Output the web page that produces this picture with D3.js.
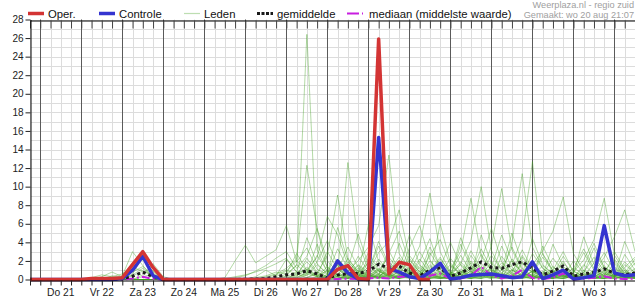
<!DOCTYPE html>
<html>
<head>
<meta charset="utf-8">
<script src="https://cdn.jsdelivr.net/npm/d3@7"></script>
<style>
body { margin: 0; background: #fff; }
svg { display: block; font-family: "Liberation Sans", Arial, sans-serif; }
</style>
</head>
<body>
<svg id="chart" width="635" height="300"></svg>
<script>
// size of the whole picture
var w = 635;
var h = 300;

// time axis: 6-hourly steps from wo 20 aug 18:00 to do 4 sep 12:00
var start = new Date(2025, 7, 20, 18);
var end = new Date(2025, 8, 4, 12);
var stepHours = 6;

var dayLabels = ["Do 21", "Vr 22", "Za 23", "Zo 24", "Ma 25", "Di 26", "Wo 27",
                 "Do 28", "Vr 29", "Za 30", "Zo 31", "Ma 1", "Di 2", "Wo 3"];
var yTicks = [0, 2, 4, 6, 8, 10, 12, 14, 16, 18, 20, 22, 24, 26, 28];

// operational run (stops after 240 h)
var oper = [0,0,0,0,0,0,0.1,0.1,0.1,0.2,1.6,3.0,1.3,0,0,0,0,0,0,0,
            0,0,0,0,0,0,0,0,0,0,1.1,1.5,0.1,0,25.9,0.6,1.85,1.6,0,0];

// control run
var controle = [0,0,0,0,0,0,0,0,0,0.1,1.0,2.5,0.4,0,0,0,0,0,0,0,
                0,0,0,0,0,0,0,0,0,0,2.0,0.7,0.05,0,15.3,1.2,0.8,0.3,0.1,0.8,
                1.75,0.05,0.2,0.45,0.55,0.6,0.4,0.2,0.3,1.9,0.1,0.5,1.0,0.05,0.2,0.4,5.8,0.7,0.4,0.5];

// ensemble mean
var gemiddelde = [0,0,0,0,0,0,0.02,0.03,0.05,0.08,0.35,0.8,0.3,0.02,0,0,0,0,0,0,
                  0,0.03,0.05,0.1,0.3,0.5,0.6,0.95,0.6,0.15,0.5,0.6,0.65,0.9,1.65,1.2,1.45,0.7,0.4,1.0,
                  1.25,0.35,0.7,1.25,1.9,1.3,1.2,1.6,1.9,1.2,0.5,0.9,1.45,0.35,0.6,0.75,1.15,0.65,0.5,0.7];

// ensemble median
var mediaan = [0,0,0,0,0,0,0,0,0,0,0.1,0.3,0.05,0,0,0,0,0,0,0,
               0,0,0,0,0,0,0,0,0,0,0.05,0.1,0.05,0.1,0.2,0.1,0.3,0.3,0.05,0.4,
               0.65,0.05,0.1,0.4,1.35,0.45,0.1,0.4,1.05,0.15,0.05,0.2,0.65,0,0.1,0.2,0.35,0.1,0.05,0.1];

// ensemble members (Leden)
var m01 = [0,0,0,0,0,0,0,0,0,0,0.5,1.2,0.3,0,0,0,0,
  0,0,0,0,0.1,0.2,0.4,0.8,0.6,1.5,26.4,3.2,0.8,1.5,0.6,0.3,1.8,0.9,0.4,2.1,0.5,0.2,1.4,0.8,0.3,0.1,2.6,1.0,0.4,1.8,0.6,0.2,0.9,0.3,0.1,1.2,0.4,0.2,0.6,1.5,0.3,0.8,0.4];
var m02 = [0,0,0,0,0,0,0,0,0,0.4,3.0,1.5,0.2,0,0,0,0,
  0,0,0,0,0,0.1,0.3,0.6,1.2,2.2,12.3,5.4,1.2,0.4,2.3,0.8,0.2,0.6,3.1,1.0,0.2,0.1,0.8,2.4,0.6,0.2,0.9,3.3,1.1,0.4,0.2,1.7,0.8,0.1,0.6,2.0,0.3,0.1,0.3,0.9,2.2,0.6,0.3];
var m03 = [0,0,0,0,0,0,0,0.3,0.8,0.3,0,0,0,0,0,0,0,
  0,0,0.2,2.0,3.7,1.8,2.5,3.2,5.8,1.9,3.4,1.1,0.5,2.2,1.0,0.4,0.9,4.1,1.6,0.7,0.3,1.9,4.4,1.2,0.5,1.6,0.8,0.3,1.3,4.8,2.0,0.7,0.3,1.5,0.6,0.2,0.8,2.9,1.0,0.4,0.2,1.3,2.4];
var m04 = [0,0,0,0,0,0,0,0,0,0,0,0,0,0,0,0,0,
  0,0,0,0.2,0.4,0.9,1.5,2.3,3.0,1.2,2.5,5.5,2.0,0.8,12.6,4.0,1.1,0.4,0.9,2.4,0.8,0.3,1.1,0.5,0.2,3.8,1.3,0.6,0.2,1.0,3.5,1.2,0.4,0.1,0.9,0.4,0.2,1.4,3.9,1.3,0.5,0.2,0.6];
var m05 = [0,0,0,0,0,0,0,0,0,0,0.6,2.4,0.8,0,0,0,0,
  0,0,0,0,0,0,0,0.1,0.3,0.8,0.4,1.6,0.6,0.3,0.9,2.0,3.5,5.8,13.4,2.8,1.0,0.4,0.2,1.3,0.6,0.3,1.8,0.9,0.3,0.1,2.2,0.8,0.3,0.1,0.4,1.8,0.6,0.2,0.1,0.5,1.7,0.5,0.2];
var m06 = [0,0,0,0,0,0,0,0,0,0,0,0,0,0,0,0,0,
  0,0,0,0,0,0.1,0.2,0.5,1.0,0.6,1.9,0.7,2.6,9.1,2.2,0.9,0.4,1.2,0.5,0.2,1.4,3.6,9.3,3.0,0.8,0.3,0.9,0.4,1.9,0.7,0.3,2.6,1.0,0.4,0.2,0.6,0.2,0.1,1.1,2.9,0.9,0.3,0.1];
var m07 = [0,0,0,0,0,0,0,0,0,0,0,0,0,0,0,0,0,
  0,0,0,0,0,0,0.1,0.3,0.9,2.0,1.0,2.4,6.8,4.8,1.5,0.6,5.9,1.9,0.6,0.3,2.6,1.1,0.4,6.0,1.8,0.5,0.2,1.4,0.6,0.2,1.0,0.4,2.8,1.2,0.4,0.1,1.3,0.5,0.2,0.6,0.3,1.6,0.7];
var m08 = [0,0,0,0,0,0,0,0,0,0,0,0,0,0,0,0,0,
  0,0,0,0,0,0,0,0,0.2,0.5,1.3,0.4,0.2,1.2,0.5,1.6,0.8,2.9,4.1,7.5,2.3,0.8,0.3,0.9,0.4,1.7,4.2,10.0,3.1,1.0,0.4,0.2,0.9,0.5,2.3,0.9,0.3,0.1,0.4,1.3,0.6,0.3,0.9];
var m09 = [0,0,0,0,0,0,0,0,0,0,0,0,0,0,0,0,0,
  0,0,0,0,0,0,0,0,0,0.1,0.6,0.3,1.0,0.5,0.2,0.7,1.8,0.6,0.3,1.2,0.5,2.2,0.8,0.3,1.1,3.0,8.75,2.5,0.9,0.3,1.6,4.5,12.7,2.7,0.9,0.3,0.1,0.8,2.4,0.9,0.3,0.1,0.5];
var m10 = [0,0,0,0,0,0,0,0,0,0,0,0,0,0,0,0,0,
  0,0,0,0,0,0,0,0,0,0,0.2,0.8,0.3,2.0,0.8,0.3,0.1,0.5,1.9,0.7,0.3,0.1,2.9,1.1,0.4,0.2,1.5,0.6,3.6,9.8,3.2,1.0,0.4,0.2,1.0,3.0,0.8,2.1,4.3,8.75,2.6,0.9,0.3];
var m11 = [0,0,0,0,0,0,0,0,0,0,0,0,0,0,0,0,0,
  0,0,0,0,0,0,0,0,0,0,0,0.2,0.5,1.1,0.4,0.2,2.3,0.9,0.3,0.8,0.4,1.5,0.6,0.2,0.1,0.9,0.4,2.7,1.0,0.5,4.0,11.4,3.5,1.2,0.4,0.9,0.3,0.1,0.8,2.4,4.6,7.5,3.0];
var m12 = [0,0,0,0,0,0,0,0,0,0,0,0,0,0,0,0,0,
  0,0,0,0,0,0,0,0,0,0,0,0,0.1,0.4,1.3,0.5,0.2,1.0,2.4,1.0,4.8,1.6,0.5,0.2,0.6,1.9,0.7,0.3,0.1,2.5,1.0,0.4,1.6,3.1,5.2,8.9,2.8,0.9,0.3,0.1,1.2,0.5,1.8];
var m13 = [0,0,0,0,0,0,0,0,0,0,0,0,0,0,0,0,0,
  0,0,0,0,0,0.3,1.0,0.4,2.2,0.8,4.5,1.7,0.6,3.3,1.2,4.9,1.6,0.5,2.8,5.2,1.8,0.6,3.5,1.3,4.0,1.5,0.5,2.0,5.5,1.9,0.7,3.2,1.1,0.4,3.8,1.4,0.5,4.6,1.6,0.6,0.2,2.7,1.0];
var m14 = [0,0,0,0,0,0,0,0,0,0,0,0,0,0,0,0,0,
  0,0,0,0,0,0,0,0.1,0.6,2.8,1.0,0.4,3.0,1.1,0.4,2.5,0.9,3.6,1.3,0.5,3.4,5.8,2.1,0.7,0.3,4.5,1.6,0.6,2.6,1.0,5.0,1.8,0.6,2.4,0.9,0.3,2.0,0.7,3.4,1.2,0.4,4.1,1.5];
var m15 = [0,0,0,0,0,0,0,0,0,0.2,1.8,2.1,0.9,0.1,0,0,0,
  0,0,0,0,0,0,0,0,0.4,1.6,0.6,3.8,1.3,0.5,1.9,0.7,0.3,2.2,0.8,3.9,1.4,0.5,2.6,4.3,1.5,0.5,3.1,1.1,0.4,3.6,1.3,0.5,4.4,1.6,0.6,2.5,0.9,0.3,1.8,5.3,1.9,0.7,2.2];
var m16 = [0,0,0,0,0,0,0,0,0,0,0,0,0,0,0,0,0,
  0,0,0,0,0,0,0,0,0,0.3,2.3,0.8,0.3,5.6,2.0,0.7,2.9,1.0,0.4,1.7,0.6,3.0,1.1,0.4,2.3,0.8,0.3,4.8,1.7,0.6,2.0,0.7,0.3,3.6,1.3,0.5,1.2,3.3,1.2,0.4,3.0,1.1,0.4];
var m17 = [0,0,0,0,0,0,0.2,0.5,0.3,0.6,1.3,0.9,0.4,0,0,0,0,
  0,0,0,0,0,0,0,0,0,0,0.5,1.9,4.2,1.5,0.5,1.2,0.4,0.2,1.6,0.6,2.1,0.8,0.3,1.8,0.7,2.6,0.9,0.3,1.4,0.5,0.2,1.9,0.7,2.8,1.0,0.4,0.2,1.6,0.6,2.0,0.7,0.3,1.2];
var m18 = [0,0,0,0,0,0,0,0,0,0,0,0,0,0,0,0,0,
  0,0,0,0,0,0,0,0,0,0,0,0.3,0.1,0.9,3.5,1.3,0.5,0.2,0.8,0.3,1.0,0.4,1.6,0.6,0.2,1.1,0.4,1.7,0.6,0.2,0.9,2.4,0.9,0.3,0.1,1.1,0.4,0.2,0.7,0.3,1.4,0.5,0.2];
var m19 = [0,0,0,0,0,0,0,0,0,0,0,0.5,1.7,0.3,0,0,0,
  0,0,0,0,0,0,0,0,0,0,0,0,0.2,0.6,0.3,1.5,0.6,0.2,0.5,0.2,0.8,0.3,0.1,0.7,0.3,0.1,1.2,0.5,0.2,0.6,0.2,0.1,0.5,0.2,1.4,0.5,0.2,0.1,0.3,0.8,0.3,0.1,0.4];
var m20 = [0,0,0,0,0,0,0,0,0,0,0,0,0,0,0,0,0,
  0,0,0,0,0,0,0,0,0,0,0,0,0,0.1,0.4,0.2,0.7,0.3,1.1,0.4,0.2,0.6,0.2,0.1,0.5,0.2,0.6,1.3,0.5,0.2,0.1,0.6,0.2,0.8,0.3,0.1,0.4,0.2,0.9,0.3,0.1,0.5,0.2];
var m21 = [0,0,0,0,0,0,0,0,0,0,0.4,0.9,0.5,0,0,0,0,
  0,0,0,0,0,0,0,0,0.1,0.4,1.1,0.4,0.9,0.3,0.7,0.3,1.4,0.5,0.2,0.9,0.3,0.1,0.6,2.2,0.8,0.3,0.1,0.7,0.3,1.5,0.5,0.2,0.6,0.2,0.1,0.8,0.3,1.0,0.4,0.1,0.6,0.2,0.1];
var m22 = [0,0,0,0,0,0,0,0,0,0,0,0,0,0,0,0,0,
  0,0,0.1,0.3,0.5,0.8,1.2,1.7,2.3,0.8,0.9,0.3,0.1,1.7,0.6,0.2,0.5,0.2,1.3,0.5,0.2,0.1,0.5,0.2,0.1,0.6,2.0,0.7,0.3,0.1,0.5,0.2,1.8,0.6,0.2,0.1,0.5,0.2,0.1,0.7,0.3,1.9,0.7];
var m23 = [0,0,0,0,0,0,0,0,0,0,0,0,0,0,0,0,0,
  0,0,0,0,0,0,0,0,0,0,0.2,0.6,0.2,0.1,0.5,0.2,0.8,0.3,0.1,0.4,1.2,0.4,0.2,0.1,0.4,0.9,0.3,0.1,0.8,0.3,1.1,0.4,0.1,0.3,0.8,0.3,0.1,0.5,0.2,1.0,0.4,0.1,0.3];
var m24 = [0,0,0,0,0,0,0,0,0,0,0,0,0,0,0,0,0,
  0,0,0,0,0,0,0,0,0,0,0,0,0,0,0.1,0.5,0.2,0.9,0.3,0.1,0.7,0.3,0.1,0.4,1.6,0.6,0.2,0.1,0.5,0.2,0.7,0.3,0.1,0.9,0.3,0.6,0.2,0.1,0.5,0.2,0.1,0.4,0.2];
var m25 = [0,0,0,0,0,0,0,0,0,0,0.8,1.4,0.4,0,0,0,0,
  0,0,0,0,0,0,0,0,0,0.2,0.7,2.6,0.9,0.3,0.1,1.0,0.4,0.1,0.6,0.2,0.9,0.3,2.0,0.7,0.2,0.1,0.6,0.2,1.0,0.4,0.1,0.7,0.2,0.1,0.5,0.2,0.9,0.3,0.1,0.4,0.9,0.3,0.1];
var m26 = [0,0,0,0,0,0,0,0,0,0,0,0,0,0,0,0,0,
  0,0,0,0,0,0,0,0,0,0,0,0,0,0.2,0.1,0.4,0.1,0.3,0.1,0.5,0.2,0.9,0.3,0.1,0.3,0.1,0.4,0.2,0.6,0.2,0.1,0.4,0.1,0.5,0.2,0.1,0.3,0.7,0.2,0.1,0.3,0.1,0.6];
var m27 = [0,0,0,0,0,0,0,0,0.4,0.2,0,0,0,0,0,0,0,
  0,0,0,0,0,0,0,0.2,0.1,0.6,0.2,0.1,0.4,0.1,0.3,0.1,0.5,0.2,0.1,0.3,0.1,0.2,0.7,0.3,0.1,0.3,0.1,0.5,0.2,0.1,0.3,0.1,0.4,0.1,0.2,0.5,0.1,0.3,0.1,0.2,0.5,0.2,0.1];
var m28 = [0,0,0,0,0,0,0,0,0,0,0,0,0,0,0,0,0,
  0,0,0,0,0,0,0,0,0,0,0,0.1,0.3,0.1,0.2,0.6,0.2,0.1,0.4,0.1,0.3,0.1,0.4,0.1,0.2,0.5,0.2,0.1,0.3,0.1,0.4,0.2,0.1,0.3,0.1,0.4,0.1,0.2,0.1,0.3,0.1,0.2,0.4];
var m29 = [0,0,0,0,0,0,0,0,0,0,0,0,0,0,0,0,0,
  0,0,0,0,0,0,0,0,0.1,0.2,0.8,0.3,1.4,0.5,0.2,0.1,0.3,1.1,0.4,0.1,0.3,1.3,0.5,0.2,0.1,0.4,0.1,0.3,1.2,0.4,0.1,0.3,0.9,0.3,0.1,0.4,0.1,0.6,0.2,0.1,0.4,1.0,0.3];
var m30 = [0,0,0,0,0,0,0,0,0,0,0,0.3,0.6,0.1,0,0,0,
  0,0,0,0,0,0,0,0,0,0,0,0,0.1,0.3,0.1,0.2,0.1,0.4,0.2,0.1,0.5,0.2,0.1,0.3,0.1,0.2,0.1,0.4,0.1,0.3,0.1,0.2,0.3,0.1,0.2,0.1,0.4,0.1,0.2,0.1,0.2,0.1,0.2];

var leden = [m01, m02, m03, m04, m05, m06, m07, m08, m09, m10,
             m11, m12, m13, m14, m15, m16, m17, m18, m19, m20,
             m21, m22, m23, m24, m25, m26, m27, m28, m29, m30];

var svg = d3.select("#chart");

// plot area
var plotLeft = 30, plotRight = 635, plotTop = 19.5, plotBottom = 279.5;

var x = d3.scaleTime().domain([start, end]).range([plotLeft, plotRight]);
var y = d3.scaleLinear().domain([0, 28]).range([plotBottom, plotTop]);

function timeAt(i) { return d3.timeHour.offset(start, i * stepHours); }

var sixHours = d3.timeHour.every(6).range(start, d3.timeHour.offset(end, 1));
var midnights = d3.timeDay.range(d3.timeHour.offset(start, 1), end);

//Grid: light lines every 6 hours and every 1 mm
var grid = svg.append("g").attr("class", "grid");
grid.selectAll(".vgrid")
    .data(sixHours)
    .enter().append("line")
    .attr("x1", function(d) { return Math.round(x(d)) + 0.5; })
    .attr("x2", function(d) { return Math.round(x(d)) + 0.5; })
    .attr("y1", plotTop).attr("y2", plotBottom)
    .attr("stroke", "#dcdcdc");
grid.selectAll(".hgrid")
    .data(d3.range(1, 29))
    .enter().append("line")
    .attr("x1", plotLeft).attr("x2", plotRight)
    .attr("y1", function(d) { return Math.round(y(d)) + 0.5; })
    .attr("y2", function(d) { return Math.round(y(d)) + 0.5; })
    .attr("stroke", "#dcdcdc");

//Day separators
grid.selectAll(".day")
    .data(midnights)
    .enter().append("line")
    .attr("x1", function(d) { return Math.round(x(d)) + 0.5; })
    .attr("x2", function(d) { return Math.round(x(d)) + 0.5; })
    .attr("y1", plotTop).attr("y2", plotBottom + 1)
    .attr("stroke", "#5a5a5a");

//Lines
var line = d3.line()
    .x(function(d, i) { return x(timeAt(i)); })
    .y(function(d) { return y(d); });

var plot = svg.append("g").attr("class", "series");

plot.selectAll(".lid")
    .data(leden)
    .enter().append("path")
    .attr("d", line)
    .attr("fill", "none")
    .attr("stroke", "#41a020")
    .attr("stroke-width", 1)
    .attr("stroke-opacity", 0.4)
    .attr("stroke-linejoin", "round");

plot.append("path")
    .attr("d", line(mediaan))
    .attr("fill", "none")
    .attr("stroke", "#c81ee0")
    .attr("stroke-width", 2)
    .attr("stroke-dasharray", "8,3,2,3");

plot.append("path")
    .attr("d", line(gemiddelde))
    .attr("fill", "none")
    .attr("stroke", "#1a1a1a")
    .attr("stroke-width", 3)
    .attr("stroke-dasharray", "3,3");

plot.append("path")
    .attr("d", line(controle))
    .attr("fill", "none")
    .attr("stroke", "#3434d0")
    .attr("stroke-width", 3.5)
    .attr("stroke-linejoin", "round");

plot.append("path")
    .attr("d", line(oper))
    .attr("fill", "none")
    .attr("stroke", "#d33434")
    .attr("stroke-width", 3.5)
    .attr("stroke-linejoin", "round");

//Axes
var xAxis = svg.append("g")
    .attr("transform", "translate(0," + (plotBottom + 1) + ")")
    .call(d3.axisBottom(x).tickValues(sixHours).tickSizeInner(5).tickSizeOuter(0).tickFormat(""));
xAxis.select(".domain").attr("stroke", "#000");
xAxis.selectAll(".tick line").attr("stroke", "#222");

var topAxis = svg.append("g")
    .attr("transform", "translate(0," + (plotTop + 1) + ")")
    .call(d3.axisTop(x).tickValues(sixHours).tickSizeInner(-8).tickSizeOuter(0).tickFormat(""));
topAxis.select(".domain").attr("stroke", "#000");
topAxis.selectAll(".tick line").attr("stroke", "#444");

var yAxis = svg.append("g")
    .attr("transform", "translate(" + (plotLeft + 0.5) + ",0)")
    .call(d3.axisLeft(y).tickValues(yTicks).tickSizeInner(5).tickSizeOuter(0).tickPadding(2));
yAxis.select(".domain").attr("stroke", "#000");
yAxis.selectAll(".tick line").attr("stroke", "#222");
yAxis.selectAll("text")
    .attr("font-size", 10)
    .attr("font-family", "Liberation Sans, Arial, sans-serif")
    .attr("fill", "#222");

//Day labels under the axis, centred on noon
svg.selectAll(".daylabel")
    .data(dayLabels)
    .enter().append("text")
    .attr("x", function(d, i) { return x(d3.timeHour.offset(midnights[i], 12)); })
    .attr("y", 296)
    .attr("text-anchor", "middle")
    .attr("font-size", 10.3)
    .attr("fill", "#222")
    .text(function(d) { return d; });

//Legend
var legendItems = [
    {name: "Oper.", color: "#d33434", width: 3.5, dash: null, opacity: 1, x: 28},
    {name: "Controle", color: "#3434d0", width: 3.5, dash: null, opacity: 1, x: 99},
    {name: "Leden", color: "#41a020", width: 1.2, dash: null, opacity: 0.35, x: 184},
    {name: "gemiddelde", color: "#1a1a1a", width: 3, dash: "3,1.5", opacity: 1, x: 257},
    {name: "mediaan (middelste waarde)", color: "#c81ee0", width: 2, dash: "12,3,2,10", opacity: 1, x: 347}
];
var legend = svg.append("g").attr("class", "legend");
legendItems.forEach(function(d) {
    legend.append("line")
        .attr("x1", d.x).attr("x2", d.x + 16)
        .attr("y1", 13.5).attr("y2", 13.5)
        .attr("stroke", d.color)
        .attr("stroke-width", d.width)
        .attr("stroke-opacity", d.opacity)
        .attr("stroke-dasharray", d.dash);
    legend.append("text")
        .attr("x", d.x + (d.name.length > 12 ? 22 : 20))
        .attr("y", 17.5)
        .attr("font-size", 11.3)
        .attr("fill", "#111")
        .text(d.name);
});

//Source and time stamp
svg.append("text")
    .attr("x", 634).attr("y", 8)
    .attr("text-anchor", "end")
    .attr("font-size", 9.2)
    .attr("fill", "#a0a0a0")
    .text("Weerplaza.nl - regio zuid");
svg.append("text")
    .attr("x", 634).attr("y", 18)
    .attr("text-anchor", "end")
    .attr("font-size", 9.2)
    .attr("fill", "#a0a0a0")
    .text("Gemaakt: wo 20 aug 21:07");
</script>
</body>
</html>
